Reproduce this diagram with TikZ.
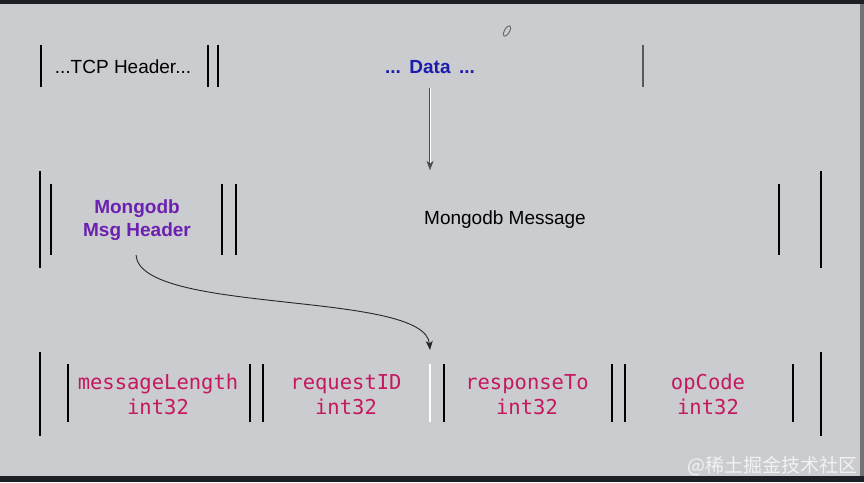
\documentclass[tikz,border=0pt]{standalone}
\usepackage{fontspec}
\setmainfont{Liberation Sans}
\newfontfamily\fieldfont{DejaVu Sans Mono}
\newfontfamily\cjkfont{Noto Sans CJK SC}
\usetikzlibrary{arrows.meta}
\definecolor{slidegray}{RGB}{203,204,207}
\definecolor{framedark}{RGB}{30,31,36}
\definecolor{datablue}{RGB}{28,28,172}
\definecolor{hdrpurple}{RGB}{108,32,176}
\definecolor{fieldred}{RGB}{196,24,96}

\begin{document}
\begin{tikzpicture}[x=1pt,y=-1pt,>={Stealth[length=9pt,width=7pt,inset=2.5pt]},
  bar/.style={line width=1.4pt,black},
  label/.style={font=\fontsize{19}{23}\selectfont,align=center,inner sep=0pt},
  field/.style={font=\fieldfont\fontsize{20.5}{25}\selectfont,text=fieldred,align=center,inner sep=0pt}]
\fill[slidegray] (0,0) rectangle (864,482);
\useasboundingbox (0,0) rectangle (864,482);
\fill[framedark] (0,0) rectangle (864,4);
\fill[framedark] (0,476) rectangle (864,482);
\fill[black!55] (860,4) rectangle (864,476);

\coordinate (datafoot) at (430,88);
\coordinate (msgtop) at (430,170);
\coordinate (hdrfoot) at (136,255);
\coordinate (fieldtop) at (430,350);

% TCP segment
\foreach \x in {41,208,218}
  \draw[bar] (\x,45) -- (\x,87);
\draw[bar,black!65] (643,45) -- (643,87);
\node[label] (tcp) at (123,67) {...TCP Header...};
\node[label,font=\bfseries\fontsize{19}{23}\selectfont,text=datablue] (data) at (430,67) {...\hspace{0.45em}Data\hspace{0.45em}...};
\draw[black!60,line width=0.9pt,rotate around={60:(507,31)}] (507,31) ellipse (6 and 2.5);

% mongodb message
\foreach \x in {40,821}
  \draw[bar] (\x,171) -- (\x,268);
\foreach \x in {51,222,236,779}
  \draw[bar] (\x,184) -- (\x,255);
\node[label,font=\bfseries\fontsize{19}{23}\selectfont,text=hdrpurple] (hdr) at (137,220.5) {Mongodb\\Msg Header};
\node[label] (msg) at (505,220) {Mongodb Message};

% header fields
\foreach \x in {40,821}
  \draw[bar] (\x,352) -- (\x,436);
\foreach \x in {68,250,263,444,612,625,793}
  \draw[bar] (\x,364) -- (\x,422);
\draw[black!85,line width=0.7pt,double=white,double distance=1.1pt] (430,364) -- (430,422);
\node[field] (len) at (158,394.5) {messageLength\\int32};
\node[field] (req) at (346,394.5) {requestID\\int32};
\node[field] (resp) at (527,394.5) {responseTo\\int32};
\node[field] (op) at (708,394.5) {opCode\\int32};

\draw[->,black!70,line width=0.5pt,double=white,double distance=0.9pt] (datafoot) -- (msgtop);
\draw[->,black!85,line width=0.9pt] (hdrfoot) .. controls (140,315) and (425,290) .. (fieldtop);

\node[font=\cjkfont\fontsize{19}{19}\selectfont,text=white,opacity=0.75,anchor=east,inner sep=0pt] (mark) at (858,466) {@稀土掘金技术社区};
\end{tikzpicture}
\end{document}
